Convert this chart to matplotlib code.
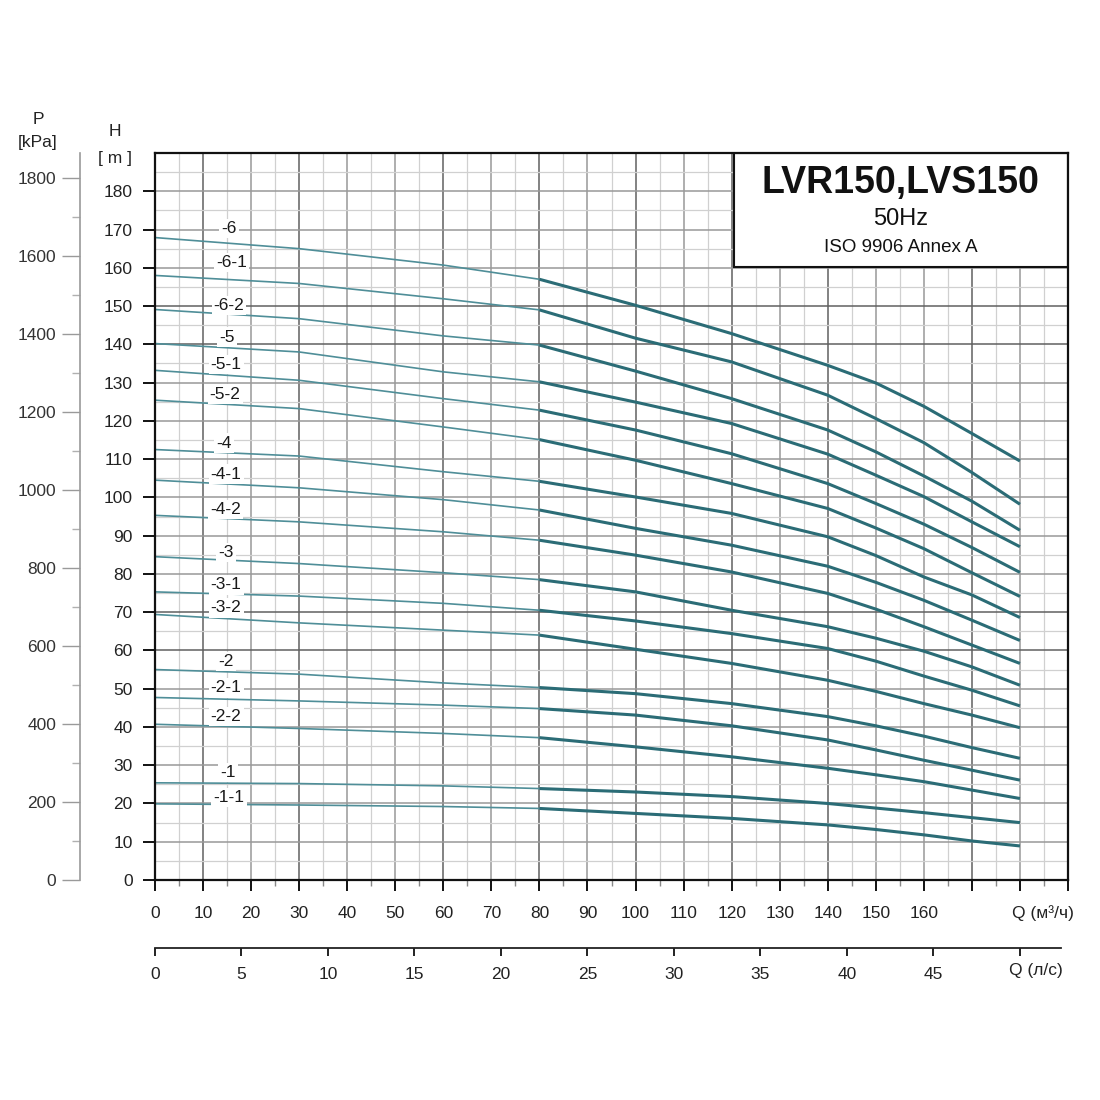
import numpy as np
import matplotlib
matplotlib.use("Agg")
import matplotlib.pyplot as plt
from matplotlib.patches import Rectangle
from matplotlib.transforms import blended_transform_factory

plt.rcParams["font.family"] = ["Liberation Sans", "DejaVu Sans"]

# подача, м3/ч
Q = [0, 30, 60, 80, 100, 120, 140, 150, 160, 170, 180]

# напор H, м, по моделям
names = ["-6", "-6-1", "-6-2", "-5", "-5-1", "-5-2", "-4", "-4-1", "-4-2",
         "-3", "-3-1", "-3-2", "-2", "-2-1", "-2-2", "-1", "-1-1"]
H_6 = [167.9, 165.0, 160.7, 157.0, 150.2, 142.8, 134.5, 129.9, 123.8, 116.7, 109.5]
H_6_1 = [158.0, 155.9, 151.9, 149.0, 141.6, 135.4, 126.7, 120.6, 114.3, 106.5, 98.2]
H_6_2 = [149.1, 146.7, 142.2, 139.8, 133.0, 125.8, 117.6, 111.9, 105.6, 99.0, 91.4]
H_5 = [140.2, 138.0, 132.8, 130.2, 124.9, 119.3, 111.3, 105.8, 100.2, 93.6, 87.1]
H_5_1 = [133.2, 130.6, 125.8, 122.8, 117.6, 111.4, 103.6, 98.4, 93.0, 86.9, 80.4]
H_5_2 = [125.4, 123.2, 118.4, 115.1, 109.7, 103.6, 97.1, 92.0, 86.6, 80.3, 74.1]
H_4 = [112.5, 110.8, 106.7, 104.2, 100.1, 95.8, 89.7, 84.8, 79.2, 74.5, 68.6]
H_4_1 = [104.5, 102.5, 99.4, 96.7, 91.9, 87.5, 82.0, 77.8, 73.1, 67.9, 62.6]
H_4_2 = [95.3, 93.6, 91.0, 88.8, 84.9, 80.5, 74.9, 70.8, 66.2, 61.4, 56.6]
H_3 = [84.5, 82.7, 80.3, 78.5, 75.3, 70.5, 66.2, 63.2, 59.8, 55.7, 50.9]
H_3_1 = [75.3, 74.2, 72.3, 70.5, 67.7, 64.4, 60.5, 57.2, 53.3, 49.6, 45.5]
H_3_2 = [69.4, 67.2, 65.3, 64.0, 60.3, 56.6, 52.2, 49.3, 46.1, 43.1, 39.8]
H_2 = [55.0, 53.8, 51.5, 50.3, 48.7, 46.1, 42.7, 40.3, 37.6, 34.6, 31.8]
H_2_1 = [47.7, 46.8, 45.7, 44.8, 43.1, 40.3, 36.6, 34.0, 31.3, 28.7, 26.1]
H_2_2 = [40.7, 39.6, 38.3, 37.2, 34.8, 32.2, 29.2, 27.5, 25.7, 23.5, 21.3]
H_1 = [25.4, 25.2, 24.6, 23.9, 23.0, 21.8, 20.0, 18.8, 17.6, 16.3, 15.0]
H_1_1 = [19.9, 19.6, 19.2, 18.7, 17.4, 16.1, 14.4, 13.2, 11.8, 10.2, 8.9]
curves = [H_6, H_6_1, H_6_2, H_5, H_5_1, H_5_2, H_4, H_4_1, H_4_2,
          H_3, H_3_1, H_3_2, H_2, H_2_1, H_2_2, H_1, H_1_1]

# подписи кривых: положение по Q и H
label_q = [15.4, 16.0, 15.4, 15.0, 14.8, 14.6, 14.4, 14.8, 14.6,
           14.8, 14.8, 14.8, 14.8, 14.8, 14.8, 15.2, 15.4]
label_h = [170.3, 161.4, 150.2, 141.9, 134.8, 127.0, 114.2, 106.1, 96.9,
           85.7, 77.1, 71.1, 57.2, 50.2, 42.8, 28.0, 21.5]

q_ticks = list(range(0, 170, 10))
ls_ticks = list(range(0, 50, 5))
h_ticks = list(range(0, 190, 10))
p_ticks = list(range(0, 2000, 200))

RHO_G = 9.81      # кПа на метр
Q_MAX, H_MAX = 190, 190
Q_SPLIT = 80      # с этой подачи кривая рисуется жирнее

W = H = 1100


def fx(px):
    return px / W


def fy(py):
    return 1 - py / H


fig = plt.figure(figsize=(11, 11), dpi=100)
ax_rect = [fx(155), fy(880), fx(1068) - fx(155), fy(153) - fy(880)]
ax = fig.add_axes(ax_rect)
ax.set_xlim(0, Q_MAX)
ax.set_ylim(0, H_MAX)

# сетка
for q in np.arange(5, Q_MAX, 5):
    major = q % 10 == 0
    dark = q in (10, 30, 60, 80, 100, 120, 140, 170)
    col = "#606060" if dark else ("#999999" if major else "#d0d0d0")
    ax.axvline(q, color=col, lw=1.1 if major else 0.9, zorder=1)
for h in np.arange(5, H_MAX, 5):
    major = h % 10 == 0
    dark = h in (60, 70, 140, 150)
    col = "#606060" if dark else ("#999999" if major else "#d0d0d0")
    ax.axhline(h, color=col, lw=1.1 if major else 0.9, zorder=1)

# кривые
q_arr = np.array(Q)
for name, hv in zip(names, curves):
    hv = np.array(hv)
    lo = q_arr <= Q_SPLIT
    hi = q_arr >= Q_SPLIT
    ax.plot(q_arr[lo], hv[lo], color="#4f8e98", lw=1.2, zorder=3,
            solid_capstyle="butt")
    ax.plot(q_arr[hi], hv[hi], color="#2b6c76", lw=2.2, zorder=3,
            solid_capstyle="butt")

for name, lq, lh in zip(names, label_q, label_h):
    ax.text(lq, lh, name, fontsize=12.5, color="#1a1a1a", ha="center", va="center",
            zorder=5, bbox=dict(boxstyle="square,pad=0.12", fc="white", ec="none"))

# табличка с названием
ax.add_patch(Rectangle((120.4, 160.1), Q_MAX - 120.4, H_MAX - 160.1,
                       fc="white", ec="#111111", lw=1.5, zorder=4))
ax.text(155.2, 182.2, "LVR150,LVS150", fontsize=27, fontweight="bold",
        ha="center", va="center", zorder=6, color="#111111")
ax.text(155.2, 172.7, "50Hz", fontsize=17, ha="center", va="center", zorder=6,
        color="#111111")
ax.text(155.2, 165.4, "ISO 9906 Annex A", fontsize=13.5, ha="center", va="center",
        zorder=6, color="#111111")

for s in ax.spines.values():
    s.set_color("#111111")
    s.set_linewidth(1.6)
    s.set_zorder(6)

ax.set_xticks(q_ticks + [170, 180, 190])
ax.set_xticklabels([str(t) for t in q_ticks] + ["", "", ""])
ax.set_xticks(np.arange(5, Q_MAX, 10), minor=True)
ax.set_yticks(h_ticks)
ax.set_yticklabels([str(t) for t in h_ticks])
ax.tick_params(axis="x", which="major", direction="out", length=8, width=1.4,
               pad=11, labelsize=12.5, colors="#111111", labelcolor="#222222")
ax.tick_params(axis="x", which="minor", direction="out", length=4, width=1.0,
               color="#888888")
ax.tick_params(axis="y", which="major", direction="out", length=9, width=1.4,
               pad=7, labelsize=12.5, colors="#111111", labelcolor="#222222")

tr = blended_transform_factory(ax.transData, ax.transAxes)
ax.text(191.3, -0.045, "Q (м³/ч)", transform=tr, fontsize=12.5, ha="right",
        va="center", color="#222222")

# вторая шкала подачи, л/с
ax_ls = fig.add_axes([ax_rect[0], fy(948), ax_rect[2], 0.0001])
ax_ls.set_xlim(0, Q_MAX / 3.6)
ax_ls.set_yticks([])
for k in ("top", "left", "right"):
    ax_ls.spines[k].set_visible(False)
ax_ls.spines["bottom"].set_bounds(0, 52.4)
ax_ls.spines["bottom"].set_color("#222222")
ax_ls.spines["bottom"].set_linewidth(1.3)
ax_ls.patch.set_alpha(0)
ax_ls.set_xticks(ls_ticks + [50])
ax_ls.set_xticklabels([str(t) for t in ls_ticks] + [""])
ax_ls.tick_params(axis="x", direction="out", length=6, width=1.4, pad=8,
                  labelsize=12.5, colors="#222222")
fig.text(fx(1063), fy(970), "Q (л/с)", fontsize=12.5, ha="right", va="center",
         color="#222222")

# шкала давления, кПа
ax_p = fig.add_axes([fx(80), ax_rect[1], 0.0001, ax_rect[3]])
ax_p.set_ylim(0, H_MAX * RHO_G)
ax_p.set_xticks([])
for k in ("top", "bottom", "right"):
    ax_p.spines[k].set_visible(False)
ax_p.spines["left"].set_color("#9a9a9a")
ax_p.spines["left"].set_linewidth(1.2)
ax_p.patch.set_alpha(0)
ax_p.set_yticks(p_ticks)
ax_p.set_yticklabels([str(t) for t in p_ticks])
ax_p.set_yticks(np.arange(100, 1900, 200), minor=True)
ax_p.tick_params(axis="y", which="major", direction="out", length=13, width=1.0,
                 pad=4, labelsize=12.5, color="#9a9a9a", labelcolor="#333333")
ax_p.tick_params(axis="y", which="minor", direction="out", length=6, width=1.0,
                 color="#b0b0b0")

fig.text(fx(38), fy(120), "P", fontsize=12.5, ha="center", va="center",
         color="#222222")
fig.text(fx(38), fy(143), "[kPa]", fontsize=12.5, ha="center", va="center",
         color="#222222")
fig.text(fx(115), fy(132), "H", fontsize=12.5, ha="center", va="center",
         color="#222222")
fig.text(fx(115), fy(158), "[ m ]", fontsize=12.5, ha="center", va="center",
         color="#222222")

fig.savefig("out.png", dpi=100, facecolor="white")
